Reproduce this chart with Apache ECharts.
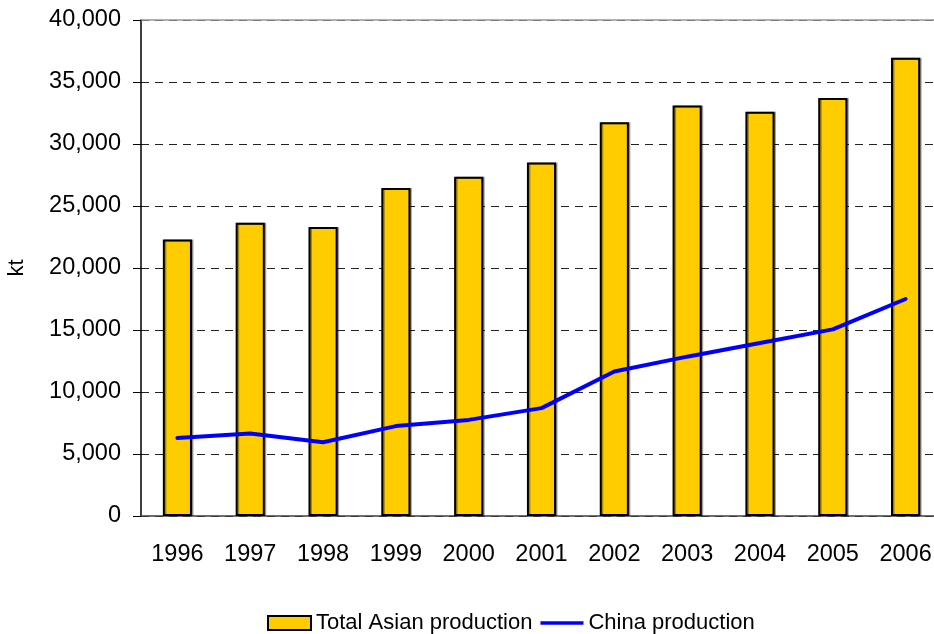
<!DOCTYPE html>
<html lang="en">
  <head>
    <meta charset="UTF-8" />
    <title>Asian production</title>
    <script src="https://cdn.jsdelivr.net/npm/echarts@6/dist/echarts.min.js"></script>
    <style>
      html, body { margin: 0; padding: 0; background: #fff; }
      #main { width: 934px; height: 634px; }
    </style>
  </head>
  <body>
    <div id="main"></div>
    <script>
      const years = ["1996", "1997", "1998", "1999", "2000", "2001", "2002", "2003", "2004", "2005", "2006"];
      const totalAsian = [22300, 23650, 23300, 26450, 27350, 28500, 31750, 33100, 32600, 33700, 36950];
      const chinaProd = [6300, 6650, 5950, 7250, 7750, 8700, 11650, 12850, 13950, 15050, 17500];

      const chart = echarts.init(document.getElementById("main"));
      const font = "Liberation Sans, Arial, sans-serif";

      const option = {
        animation: false,
        textStyle: { fontFamily: font },
        grid: { left: 141, right: -8, top: 20, bottom: 118, containLabel: false, outerBoundsMode: "none" },
        legend: {
          left: 262,
          bottom: -5,
          itemWidth: 43,
          itemHeight: 14,
          itemGap: 8,
          itemTextGap: 6,
          textStyle: { fontSize: 22, color: "#000", fontFamily: font },
          data: [
            { name: "Total Asian production", icon: "rect" },
            { name: "China production", icon: "path://M0,0 L46,0 L46,4 L0,4 Z" }
          ]
        },
        xAxis: {
          type: "category",
          data: years,
          axisLine: { lineStyle: { color: "#404040", width: 1.5 } },
          axisTick: { show: false },
          axisLabel: { fontSize: 23.5, color: "#000", margin: 27 }
        },
        yAxis: {
          type: "value",
          min: 0,
          max: 40000,
          interval: 5000,
          name: "kt",
          nameLocation: "middle",
          nameGap: 113,
          nameTextStyle: { fontSize: 22, color: "#000" },
          axisLine: { show: true, lineStyle: { color: "#000", width: 1.5 } },
          axisTick: { show: true, length: 8, lineStyle: { color: "#000" } },
          axisLabel: {
            fontSize: 23.5,
            color: "#000",
            margin: 20,
            formatter: (v) => v.toLocaleString("en-US")
          },
          splitLine: {
            show: true,
            lineStyle: { color: "#222", type: [8, 6], width: 1 }
          }
        },
        series: [
          {
            name: "Total Asian production",
            type: "bar",
            data: totalAsian,
            barWidth: "40%",
            itemStyle: {
              color: "#FFCC00",
              borderColor: "#000",
              borderWidth: 2,
              shadowColor: "rgba(0,0,0,0.35)",
              shadowOffsetX: 1.5,
              shadowOffsetY: 0
            },
            markLine: {
              silent: true,
              symbol: "none",
              label: { show: false },
              lineStyle: { color: "#999", type: "solid", width: 1.5 },
              data: [{ yAxis: 40000 }]
            }
          },
          {
            name: "China production",
            type: "line",
            data: chinaProd,
            showSymbol: false,
            symbol: "none",
            lineStyle: { color: "#0000FF", width: 4, cap: "round" },
            itemStyle: { color: "#0000FF" }
          }
        ]
      };

      chart.setOption(option);
    </script>
  </body>
</html>
